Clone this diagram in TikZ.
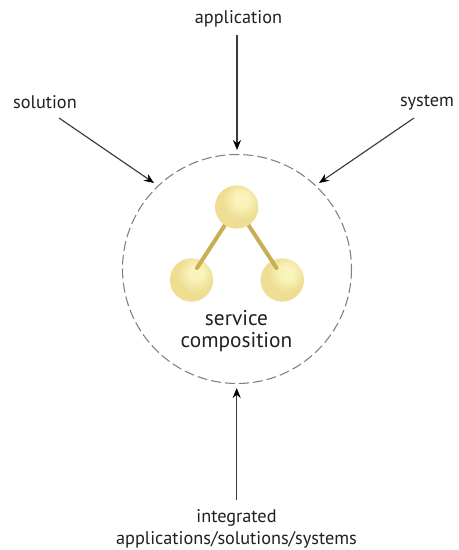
\documentclass[tikz,border=0pt]{standalone}
\usepackage{fontspec}
\setmainfont{PT Sans}
\usetikzlibrary{arrows.meta}
\definecolor{stickc}{HTML}{C9AE55}
\definecolor{dashc}{HTML}{808080}
\definecolor{linec}{HTML}{3A3A3A}
\definecolor{textc}{HTML}{231F20}
\definecolor{ballhi}{HTML}{FAF4BC}
\definecolor{ballmid}{HTML}{EEDD92}
\definecolor{balledge}{HTML}{E2CA74}
\pgfdeclareradialshading{ballg}{\pgfpoint{6bp}{9bp}}{
  color(0bp)=(ballhi);
  color(7bp)=(ballhi);
  color(22bp)=(ballmid);
  color(38bp)=(ballmid);
  color(50bp)=(balledge);
  color(100bp)=(balledge)}
\tikzset{
  px/.style={x=0.75pt,y=-0.75pt},
  lab/.style={font=\fontsize{13.7pt}{16.5pt}\selectfont,text=textc,align=center,inner sep=0pt},
  big/.style={font=\fontsize{16pt}{16.5pt}\selectfont,text=textc,align=center,inner sep=0pt},
  arr/.style={draw=linec,line width=0.85pt,-{Stealth[length=7.5pt,width=6pt,color=black]}},
  stick/.style={draw=stickc,line width=3pt,line cap=round},
  ballshade/.style={circle,minimum size=32.5pt,inner sep=0pt,shading=ballg}
}
\begin{document}
\begin{tikzpicture}[px]
\useasboundingbox (0,0) rectangle (459,550);
\fill[white] (0,0) rectangle (459,550);
\coordinate (c) at (237,269);
\draw[dashc,line width=0.8pt,dash pattern=on 7.5pt off 3pt] (c) circle [radius=114.5];
\node[lab] (tapp) at (238.5,19) {application};
\node[lab] (tsol) at (45,102.5) {solution};
\node[lab] (tsys) at (427,102.5) {system};
\node[lab] (tint) at (236.5,529) {integrated\\applications/solutions/systems};
\node[big] (tsc) at (236.5,331.5) {service\\composition};
\coordinate (a1s) at (237,35); \coordinate (a1e) at (237,150);
\coordinate (a2s) at (59,118); \coordinate (a2e) at (154,183);
\coordinate (a3s) at (414,118); \coordinate (a3e) at (319,183);
\coordinate (a4s) at (236.7,499.5); \coordinate (a4e) at (236.7,388);
\draw[arr] (a1s) -- (a1e);
\draw[arr] (a2s) -- (a2e);
\draw[arr] (a3s) -- (a3e);
\draw[arr] (a4s) -- (a4e);
\node[ballshade] (b2) at (191.5,280) {};
\node[ballshade] (b3) at (282.3,280) {};
\coordinate (e2) at (197,268);
\coordinate (e3) at (276.5,268);
\coordinate (tc) at (236.7,207);
\draw[stick] (tc) -- (e2);
\draw[stick] (tc) -- (e3);
\node[ballshade] (b1) at (tc) {};
\end{tikzpicture}
\end{document}
